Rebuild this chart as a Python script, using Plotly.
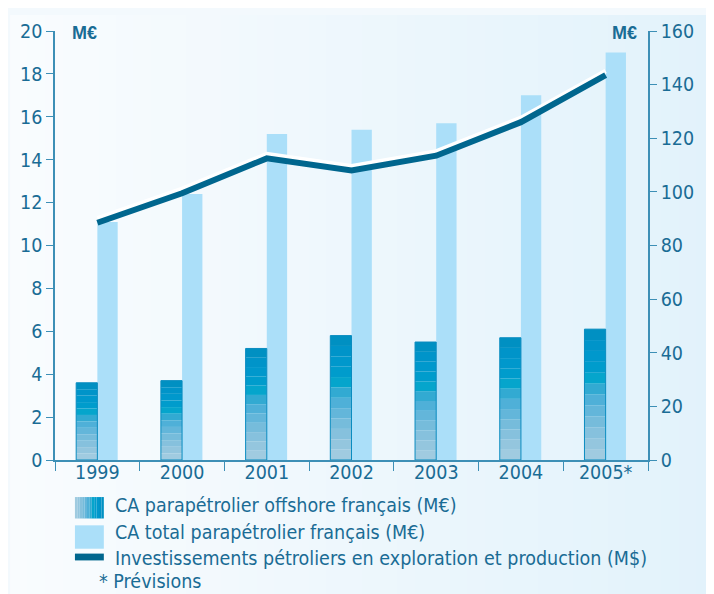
import plotly.graph_objects as go

years = ["1999", "2000", "2001", "2002", "2003", "2004", "2005*"]
offshore = [3.6, 3.7, 5.2, 5.8, 5.5, 5.7, 6.1]          # M€ (left axis)
total = [11.1, 12.4, 15.2, 15.4, 15.7, 17.0, 19.0]       # M€ (left axis)
invest = [88.5, 99.5, 112.5, 108.0, 113.5, 126.0, 143.5]  # M$ (right axis)

legend_labels = [
    "CA parapétrolier offshore français (M€)",
    "CA total parapétrolier français (M€)",
    "Investissements pétroliers en exploration et production (M$)",
    "* Prévisions",
]

# page body has an 8px margin; figure sized to fit the visible window
OFF = 8
W, H = 714 - OFF, 594 - OFF
L, T = 53 - OFF, 20 - OFF
PR, PB = 648 - OFF, 460 - OFF
R, B = W - PR, H - PB
PW, PH = PR - L, PB - T

FONT = "Liberation Sans Narrow, Arial Narrow, DejaVu Sans Condensed, sans-serif"
TXT = "#1a6c95"
AX = "#3d8fb6"
band_colors = ["#a0cbe0", "#94c6de", "#86c1dd", "#76bcdb", "#63b6da", "#4fb0d8",
               "#32aad2", "#05a5cc", "#009ccc", "#0098cc", "#0094c9", "#0090c2"]
N = len(band_colors)
TOTAL_C = "#abdff9"
LINE_C = "#00668e"
FS = 19.5

fig = go.Figure()

fig.add_trace(go.Bar(x=years, y=total, offset=0.0, width=0.24,
                     marker=dict(color=TOTAL_C, line=dict(width=0)),
                     showlegend=False, hoverinfo="skip"))

for k, c in enumerate(band_colors):
    fig.add_trace(go.Bar(x=years, y=[v / N for v in offshore],
                         base=[v * k / N for v in offshore],
                         offset=-0.25, width=0.25,
                         marker=dict(color=c, line=dict(width=0)),
                         showlegend=False, hoverinfo="skip"))
fig.add_trace(go.Bar(x=years, y=offshore, offset=-0.25, width=0.25,
                     marker=dict(color="rgba(0,0,0,0)", line=dict(width=1, color="#0a8cc0")),
                     showlegend=False, hoverinfo="skip"))

fig.add_trace(go.Scatter(x=years, y=[v + 1.6 for v in invest], yaxis="y2", mode="lines",
                         line=dict(color="white", width=4.5), showlegend=False, hoverinfo="skip"))
fig.add_trace(go.Scatter(x=years, y=invest, yaxis="y2", mode="lines",
                         line=dict(color=LINE_C, width=6), showlegend=False))


def px(x):
    return (x - OFF - L) / PW


def py(y):
    return (PB - (y - OFF)) / PH


shapes = []
c0 = (249, 252, 254)
c1 = (226, 242, 251)
S = 40
for i in range(S):
    t = i / (S - 1)
    col = "rgb(%d,%d,%d)" % tuple(round(a + (b - a) * t) for a, b in zip(c0, c1))
    x0 = (i * W / S - L) / PW
    x1 = ((i + 1) * W / S - L) / PW + 0.002
    shapes.append(dict(type="rect", xref="paper", yref="paper", x0=x0, x1=x1,
                       y0=-B / PH - 0.01, y1=1 + T / PH + 0.01, fillcolor=col,
                       line=dict(width=0), layer="below"))

sx0, sx1 = 73, 102
nb = len(band_colors)
for i, c in enumerate(band_colors):
    shapes.append(dict(type="rect", xref="paper", yref="paper",
                       x0=px(sx0 + (sx1 - sx0) * i / nb), x1=px(sx0 + (sx1 - sx0) * (i + 1) / nb),
                       y0=py(520), y1=py(498), fillcolor=c, line=dict(width=0)))
shapes.append(dict(type="rect", xref="paper", yref="paper", x0=px(sx0), x1=px(sx1),
                   y0=py(551), y1=py(527), fillcolor=TOTAL_C, line=dict(width=0)))
shapes.append(dict(type="rect", xref="paper", yref="paper", x0=px(sx0), x1=px(sx1),
                   y0=py(563), y1=py(556), fillcolor=LINE_C, line=dict(width=0)))

annotations = []
for lab, yc, xs in zip(legend_labels, [507, 534, 561, 585], [111, 111, 111, 95]):
    annotations.append(dict(text=lab, xref="paper", yref="paper", x=px(xs), y=py(yc),
                            xanchor="left", yanchor="middle", showarrow=False,
                            font=dict(family=FONT, size=FS, color=TXT)))
annotations.append(dict(text="<b>M€</b>", xref="paper", yref="paper", x=px(68), y=py(22),
                        xanchor="left", yanchor="middle", showarrow=False,
                        font=dict(family="Liberation Sans, Arial, sans-serif", size=18, color=TXT)))
annotations.append(dict(text="<b>M€</b>", xref="paper", yref="paper", x=px(639), y=py(22),
                        xanchor="right", yanchor="middle", showarrow=False,
                        font=dict(family="Liberation Sans, Arial, sans-serif", size=18, color=TXT)))

fig.update_layout(
    width=W, height=H,
    margin=dict(l=L, r=R, t=T, b=B, pad=0),
    paper_bgcolor="#f3f9fd", plot_bgcolor="rgba(0,0,0,0)",
    barmode="overlay",
    showlegend=False,
    shapes=shapes, annotations=annotations,
    font=dict(family=FONT, color=TXT, size=FS),
    xaxis=dict(type="category", tickson="boundaries", ticks="outside", ticklen=9,
               tickcolor=AX, showline=True, linecolor=AX, linewidth=1.5,
               showgrid=False, zeroline=False, tickfont=dict(size=FS, color=TXT),
               ticklabelstandoff=-6, range=[-0.5, 6.5]),
    yaxis=dict(range=[0, 20], dtick=2, ticks="outside", ticklen=7, tickcolor=AX,
               showline=True, linecolor=AX, linewidth=1.5, showgrid=False, zeroline=False,
               tickfont=dict(size=FS, color=TXT)),
    yaxis2=dict(range=[0, 160], dtick=20, overlaying="y", side="right", ticks="outside",
                ticklen=7, tickcolor=AX, showline=True, linecolor=AX, linewidth=1.5,
                showgrid=False, zeroline=False, tickfont=dict(size=FS, color=TXT)),
)

fig.write_html("out.html")
